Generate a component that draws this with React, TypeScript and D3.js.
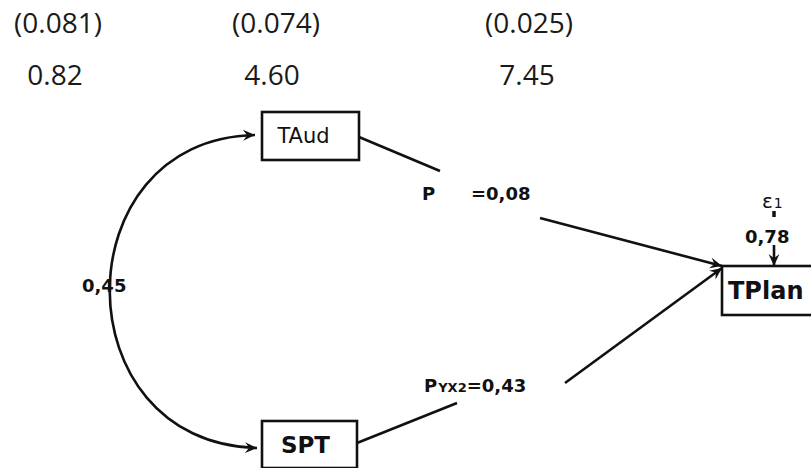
import { useEffect, useRef } from 'react'
import * as d3 from 'd3'

// values
const errorLabels = ['(0.081)', '(0.074)', '(0.025)']
const estimateLabels = ['0.82', '4.60', '7.45']
const exoNodes = ['TAud', 'SPT']
const endoNode = 'TPlan'
const pathSymbols = [{ main: 'P', sub: '' }, { main: 'P', sub: 'YX2' }]
const pathCoefs = ['=0,08', '=0,43']
const correlation = '0,45'
const residualName = { main: 'ε', sub: '1' }
const residualCoef = '0,78'

const W = 811
const H = 468

export default function App() {
  const svgRef = useRef<SVGSVGElement>(null)

  useEffect(() => {
    if (!svgRef.current) return
    const svg = d3.select(svgRef.current)
    svg.selectAll('*').remove()

    svg.append('rect').attr('width', W).attr('height', H).attr('fill', '#fff')

    const defs = svg.append('defs')
    defs.append('marker')
      .attr('id', 'arr')
      .attr('viewBox', '0 0 10 10')
      .attr('refX', 10).attr('refY', 5)
      .attr('markerWidth', 14).attr('markerHeight', 12)
      .attr('markerUnits', 'userSpaceOnUse')
      .attr('orient', 'auto-start-reverse')
      .append('path')
      .attr('d', 'M0,0.5 L10,5 L0,9.5 L3.5,5 Z')
      .attr('fill', '#111')

    // header rows
    const colX = d3.scaleOrdinal<string, number>().domain(errorLabels).range([58, 276, 529])
    const regular = "'Open Sans', sans-serif"
    const bold = "'DejaVu Sans', sans-serif"

    svg.append('g').selectAll('text').data(errorLabels).join('text')
      .attr('x', d => colX(d)).attr('y', 33)
      .attr('text-anchor', 'middle')
      .attr('font-family', regular).attr('font-size', 28)
      .attr('fill', '#1a1a1a')
      .text(d => d)

    svg.append('g').selectAll('text').data(estimateLabels).join('text')
      .attr('x', (_, i) => colX(errorLabels[i]) - (i === 0 ? 3 : i === 2 ? 2 : 4)).attr('y', 85)
      .attr('text-anchor', 'middle')
      .attr('font-family', regular).attr('font-size', 28)
      .attr('fill', '#1a1a1a')
      .text(d => d)

    // boxes
    const boxes = [
      { name: exoNodes[0], x: 262, y: 112, w: 97, h: 48, weight: 'normal', size: 21 },
      { name: exoNodes[1], x: 262, y: 421, w: 95, h: 47, weight: 'bold', size: 23 },
      { name: endoNode, x: 722, y: 266, w: 100, h: 49, weight: 'bold', size: 24 },
    ]
    const bg = svg.append('g')
    boxes.forEach(b => {
      bg.append('rect')
        .attr('x', b.x).attr('y', b.y).attr('width', b.w).attr('height', b.h)
        .attr('fill', 'none').attr('stroke', '#111').attr('stroke-width', 2.6)
      bg.append('text')
        .attr('x', b.name === endoNode ? b.x + 6 : b.x + b.w / 2 - (b.name === 'TAud' ? 7 : 4))
        .attr('y', b.y + b.h / 2 + (b.weight === 'bold' ? 8 : 7))
        .attr('text-anchor', b.name === endoNode ? 'start' : 'middle')
        .attr('font-family', bold)
        .attr('font-weight', b.weight).attr('font-size', b.size)
        .attr('fill', '#111')
        .text(b.name)
    })

    const lines = svg.append('g').attr('stroke', '#111').attr('stroke-width', 2.6).attr('fill', 'none')
    const seg = (pts: [number, number][], arrow: boolean) => {
      const p = lines.append('path').attr('d', d3.line()(pts))
      if (arrow) p.attr('marker-end', 'url(#arr)')
    }
    const tA = boxes[0], tS = boxes[1], tP = boxes[2]

    // TAud -> TPlan (broken by label)
    seg([[tA.x + tA.w, tA.y + 25], [440, 171]], false)
    seg([[540, 218], [tP.x, tP.y]], true)
    // SPT -> TPlan
    seg([[tS.x + tS.w, tS.y + 22], [457, 403]], false)
    seg([[565, 383], [tP.x, tP.y + 2]], true)

    // correlation curve
    const cp = d3.path()
    cp.moveTo(tA.x - 7, tA.y + 23)
    cp.bezierCurveTo(61, tA.y + 27, 61, tS.y + 22, tS.x - 5, tS.y + 27)
    lines.append('path').attr('d', cp.toString())
      .attr('marker-start', 'url(#arr)').attr('marker-end', 'url(#arr)')

    // residual
    const rx = 774
    lines.append('path').attr('d', d3.line()([[rx, 211], [rx, 217]])).attr('stroke-width', 3.5)
    seg([[rx, 245], [rx, tP.y]], true)

    const labels = svg.append('g')
      .attr('font-family', bold).attr('font-weight', 'bold').attr('fill', '#111')

    // path labels
    const p1 = labels.append('text').attr('x', 422).attr('y', 200).attr('font-size', 18)
    p1.append('tspan').text(pathSymbols[0].main)
    p1.append('tspan').attr('x', 471).text(pathCoefs[0])

    const p2 = labels.append('text').attr('x', 424).attr('y', 392).attr('font-size', 18)
    p2.append('tspan').text(pathSymbols[1].main)
    p2.append('tspan').attr('font-size', 13).attr('dx', 1).text(pathSymbols[1].sub)
    p2.append('tspan').text(pathCoefs[1])

    labels.append('text').attr('x', 82).attr('y', 292).attr('font-size', 18).text(correlation)
    labels.append('text').attr('x', 745).attr('y', 243).attr('font-size', 18).text(residualCoef)

    const e = labels.append('text').attr('x', 762).attr('y', 208)
      .attr('font-weight', 'normal').attr('font-size', 20)
    e.append('tspan').text(residualName.main)
    e.append('tspan').attr('font-size', 14).attr('dx', 1).text(residualName.sub)
  }, [])

  return (
    <div style={{ position: 'fixed', left: 0, top: 0, width: W, height: H }}>
      <svg ref={svgRef} width={W} height={H} />
    </div>
  )
}
